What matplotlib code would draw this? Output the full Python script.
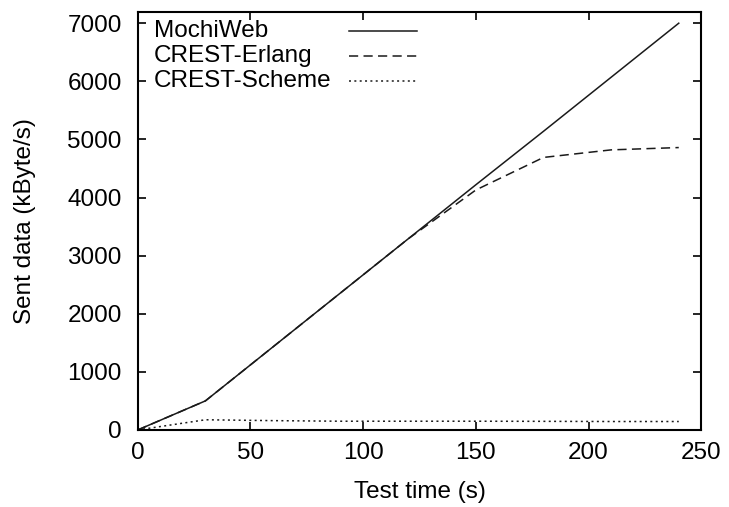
import matplotlib
matplotlib.use("Agg")
import matplotlib.pyplot as plt
from matplotlib.lines import Line2D

plt.rcParams['font.family'] = ['Liberation Sans', 'DejaVu Sans']

# test time (s)
t = [0, 30, 60, 90, 120, 150, 180, 210, 240]
mochiweb = [0, 500, 1430, 2360, 3290, 4220, 5140, 6070, 7000]
crest_erlang = [0, 500, 1430, 2360, 3290, 4130, 4690, 4820, 4860]
crest_scheme = [0, 175, 160, 150, 150, 150, 148, 145, 145]

names = ["MochiWeb", "CREST-Erlang", "CREST-Scheme"]
styles = ["-", (0, (6, 3.5)), (0, (1.3, 2.2))]
fs = 17.5

fig = plt.figure(figsize=(7.29, 5.07), dpi=100)
ax = fig.add_axes([0.189, 0.152, 0.773, 0.824])

for y, st in zip([mochiweb, crest_erlang, crest_scheme], styles):
    ax.plot(t, y, color="#1a1a1a", linestyle=st, linewidth=1.1)

ax.set_xlim(0, 250)
ax.set_ylim(0, 7190)
ax.set_xticks([0, 50, 100, 150, 200, 250])
ax.set_yticks(range(0, 7001, 1000))
ax.tick_params(direction="in", top=True, right=True, length=6, width=1.2,
               labelsize=fs)
ax.tick_params(axis="y", pad=11.5)
ax.tick_params(axis="x", pad=9)
for s in ax.spines.values():
    s.set_linewidth(1.5)

ax.set_xlabel("Test time (s)", fontsize=fs)
ax.set_ylabel("Sent data (kByte/s)", fontsize=fs)
ax.xaxis.set_label_coords(0.5, -0.122)
ax.yaxis.set_label_coords(-0.18, 0.5)

# gnuplot style key: text left, sample line right
for i, (nm, st) in enumerate(zip(names, styles)):
    yy = 0.955 - i * 0.06
    ax.text(0.028, yy, nm, transform=ax.transAxes, fontsize=fs, va="center")
    ax.add_line(Line2D([0.375, 0.496], [yy, yy], transform=ax.transAxes,
                       color="#1a1a1a", linestyle=st, linewidth=1.1))

fig.savefig("out.png", dpi=100)
